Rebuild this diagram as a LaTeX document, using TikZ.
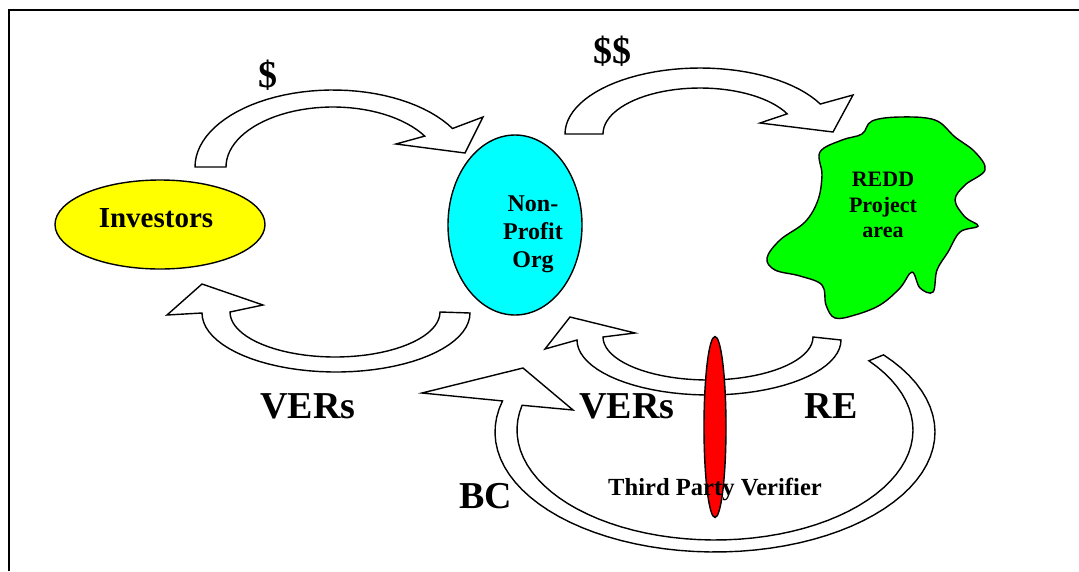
\documentclass[tikz,border=0pt]{standalone}
\usepackage{fontspec}
\setmainfont{Liberation Serif}
\usetikzlibrary{shapes.geometric}

\definecolor{investorfill}{RGB}{255,255,0}
\definecolor{orgfill}{RGB}{0,255,255}
\definecolor{forestfill}{RGB}{0,255,0}
\definecolor{verifierfill}{RGB}{255,0,0}

\begin{document}
\begin{tikzpicture}[
    x=1pt, y=-1pt,
    party/.style={
        ellipse,
        draw=black,
        line width=1.4pt,
        inner sep=0pt
    },
    flow/.style={
        draw=black,
        line width=1.4pt,
        fill=white,
        line join=miter
    },
    tag/.style={
        anchor=base,
        inner sep=0pt,
        font=\fontsize{38}{40}\selectfont\bfseries
    }
]
    \useasboundingbox (0,0) rectangle (1079,571);
    \draw[line width=2pt] (9,571) -- (9,10) -- (1079,10);

    % 1. Investors (Left)
    \node (investors) [party, fill=investorfill, minimum width=210pt, minimum height=89pt] at (160,224.5) {};
    \node (investorstext) [anchor=base, font=\fontsize{29}{31}\selectfont\bfseries] at (156,227) {Investors};

    % 2. Non-Profit Org (Middle)
    \node (nonprofit) [party, fill=orgfill, minimum width=134pt, minimum height=180pt] at (515,225) {};
    \node (nonprofittext) [align=center, font=\fontsize{24}{28}\selectfont\bfseries] at (533,234) {Non-\\Profit\\Org};

    % 3. REDD Project area (Right)
    \draw[draw=black, line width=1.4pt, fill=forestfill] plot[smooth cycle, tension=0.6] coordinates {
        (820,152) (842,140) (862,134) (872,121) (900,117) (935,120) (955,137)
        (975,152) (985,170) (965,185) (955,200) (965,217) (978,226) (960,232)
        (948,252) (937,270) (933,292) (920,288) (912,272) (900,288) (880,305)
        (855,315) (835,318) (826,305) (822,285) (800,276) (775,270) (767,258)
        (780,240) (805,222) (818,200) (822,175)};
    \node (redd) [align=center, font=\fontsize{22}{25.5}\selectfont\bfseries] at (883,205) {REDD\\Project\\area};

    % Money flows
    \draw[flow] plot[domain=180:30, samples=40] ({333+138*cos(\x)}, {167-77*sin(\x)})
        -- (483,117) -- (465,153) -- (396,144)
        -- plot[domain=31:180, samples=40] ({333+107*cos(\x)}, {167-60*sin(\x)}) -- cycle;
    \draw[flow] plot[domain=180:27, samples=40] ({700+135*cos(\x)}, {134-66*sin(\x)})
        -- (853,95) -- (833,132) -- (760,123)
        -- plot[domain=26:180, samples=40] ({700+97*cos(\x)}, {134-46*sin(\x)}) -- cycle;

    % Credit flows
    \draw[flow] plot[domain=360:180, samples=40] ({336+134*cos(\x)}, {313-59*sin(\x)})
        -- (167,315) -- (202,284) -- (263,305)
        -- plot[domain=180:360, samples=40] ({335+105*cos(\x)}, {312-45*sin(\x)}) -- cycle;
    \draw[flow] plot[domain=360:180, samples=40] ({709+132*cos(\x)}, {340-55*sin(\x)})
        -- (545,349) -- (570,317) -- (635,333)
        -- plot[domain=180:360, samples=40] ({708+105*cos(\x)}, {337-43*sin(\x)}) -- cycle;
    \draw[flow] plot[domain=40:-195, samples=60] ({715+220*cos(\x)}, {432-120*sin(\x)})
        -- (422,393) -- (523,368) -- (573,410)
        -- plot[domain=-193:39, samples=60] ({715+198*cos(\x)}, {430-110*sin(\x)}) -- cycle;

    % 4. Third Party Verifier
    \node (verifier) [party, fill=verifierfill, minimum width=22pt, minimum height=181pt] at (715,427) {};
    \node (verifiertext) [anchor=base, font=\fontsize{24.6}{26}\selectfont\bfseries] at (715,495) {Third Party Verifier};

    % Labels
    \node (lblone) [tag] at (268,87) {\$};
    \node (lbltwo) [tag] at (612,63) {\$\$};
    \node (lblvers) [tag] at (308,418) {VERs};
    \node (lblversmid) [tag] at (627,418) {VERs};
    \node (lblre) [tag] at (831,418) {RE};
    \node (lblbc) [tag] at (486,508) {BC};

\end{tikzpicture}
\end{document}
